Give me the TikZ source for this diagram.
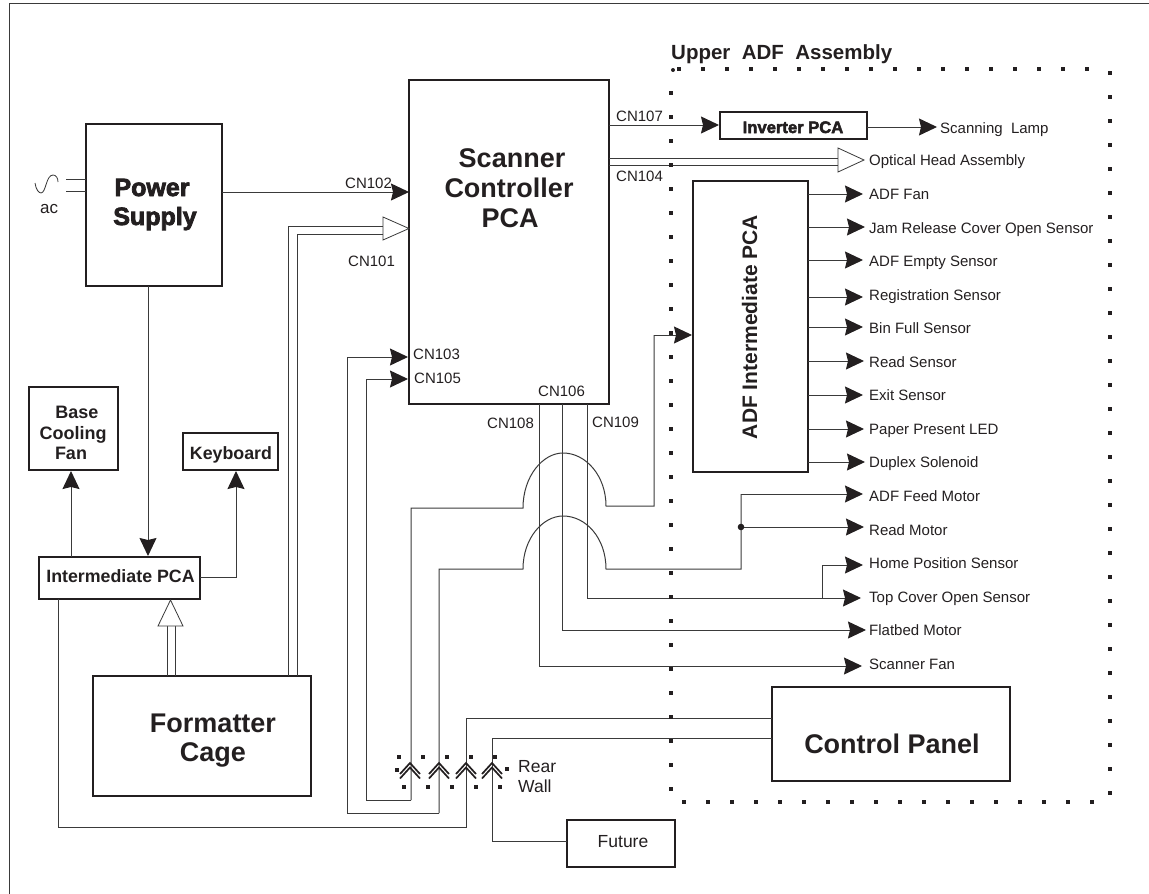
\documentclass[tikz,border=0pt]{standalone}
\usepackage{fontspec}
\setmainfont{Liberation Sans}
\newfontfamily\boldface{Liberation Sans Bold}
\newfontfamily\heavyface[FakeBold=3]{Liberation Sans Bold}
\usetikzlibrary{arrows.meta}
\definecolor{ink}{HTML}{231F20}
\definecolor{wirec}{HTML}{3A3A3A}
\tikzset{
  x=1pt,y=-1pt,
  box/.style={draw=ink,line width=2.3pt,inner sep=0pt,outer sep=0pt,fill=none},
  wire/.style={draw=wirec,line width=1pt},
  head/.style={-{Stealth[length=18pt,width=17pt,inset=2pt,color=ink]}},
  hollow/.style={draw=wirec,line width=0.8pt,fill=white,line join=miter},
  lbl/.style={anchor=base west,inner sep=0pt,text=ink,font=\fontsize{15}{15}\selectfont},
  big/.style={anchor=base,inner sep=0pt,text=ink,font=\boldface\fontsize{#1}{#1}\selectfont},
  heavy/.style={anchor=base,inner sep=0pt,text=ink,font=\heavyface\fontsize{#1}{#1}\selectfont},
  chev/.style={draw=ink,line width=1.7pt,line join=miter},
  spot/.style={fill=ink,draw=none},
}
\begin{document}
\begin{tikzpicture}
\useasboundingbox (0,0) rectangle (1149,894);
% outer frame
\coordinate (frameA) at (9,894); \coordinate (frameB) at (9,3); \coordinate (frameC) at (1149,3);
\draw[wire] (frameA) -- (frameB) -- (frameC);

% boxes
\node[box,minimum width=136pt,minimum height=162pt] (psu) at (154,205) {};
\node[box,minimum width=200pt,minimum height=324pt] (scan) at (509,242) {};
\node[box,minimum width=147pt,minimum height=27pt] (inv) at (793.5,125.5) {};
\node[box,minimum width=115pt,minimum height=291pt] (adf) at (750.5,326.5) {};
\node[box,minimum width=89pt,minimum height=83pt] (fan) at (73.5,428.5) {};
\node[box,minimum width=95pt,minimum height=37pt] (kbd) at (230.5,451.5) {};
\node[box,minimum width=161pt,minimum height=42pt] (ipca) at (119.5,578) {};
\node[box,minimum width=218pt,minimum height=120pt] (fmt) at (202,736) {};
\node[box,minimum width=238pt,minimum height=94pt] (cp) at (891,734) {};
\node[box,minimum width=108pt,minimum height=47pt] (fut) at (621,843.5) {};

% box texts
\node[heavy=25] (tPower) at (152,196) {Power};
\node[heavy=25] (tSupply) at (155,225) {Supply};
\node[big=27] (tScanner) at (512,167) {Scanner};
\node[big=27] (tCtrl) at (509,197) {Controller};
\node[big=27] (tPCA) at (510,227) {PCA};
\node[heavy=16.6] (tInv) at (793,133) {Inverter PCA};
\node[big=21,rotate=90] (tAdf) at (757,327) {ADF Intermediate PCA};
\node[big=18] (tBase) at (77,418) {Base};
\node[big=18] (tCool) at (73,439) {Cooling};
\node[big=18] (tFan) at (71,459) {Fan};
\node[big=17.8] (tKbd) at (231,459) {Keyboard};
\node[big=17.8] (tIpca) at (120.5,582) {Intermediate PCA};
\node[big=27] (tFmt) at (213,732) {Formatter};
\node[big=27] (tCage) at (213,761) {Cage};
\node[big=27] (tCp) at (892,753) {Control Panel};
\node[anchor=base,inner sep=0pt,text=ink,font=\fontsize{17.5}{17.5}\selectfont] (tFut) at (623,847) {Future};
\node[anchor=base west,inner sep=0pt,text=ink,font=\boldface\fontsize{20.5}{20.5}\selectfont] (tUpper) at (671,59) {Upper\ \ ADF\ \ Assembly};

% CN labels
\node[lbl] (cn107) at (616,121) {CN107};
\node[lbl] (cn104) at (616,181) {CN104};
\node[lbl] (cn102) at (345,188) {CN102};
\node[lbl] (cn101) at (348,266) {CN101};
\node[lbl] (cn103) at (413,359) {CN103};
\node[lbl] (cn105) at (414,383) {CN105};
\node[lbl] (cn106) at (538,396) {CN106};
\node[lbl] (cn108) at (487,428) {CN108};
\node[lbl] (cn109) at (592,427) {CN109};
\node[lbl,font=\fontsize{17}{17}\selectfont] (tAc) at (40,213) {ac};
\node[lbl,font=\fontsize{17.5}{17.5}\selectfont] (tRear) at (518,772) {Rear};
\node[lbl,font=\fontsize{17.5}{17.5}\selectfont] (tWall) at (518,792) {Wall};

% ac source
\coordinate (acA) at (66,179); \coordinate (acB) at (66,191);
\draw[wire] (acA) -- (psu.west |- acA);
\draw[wire] (acB) -- (psu.west |- acB);
\draw[wire,line width=0.8pt] (35,183) .. controls (36,190) and (39,193) .. (41,193) .. controls (46,193) and (46,175) .. (53,175) .. controls (56,175) and (58,178) .. (58,182);

% power supply links
\coordinate (t102) at (409,192);
\draw[wire,head] (psu.east |- t102) -- (t102);
\coordinate (tIp) at (148,556);
\draw[wire,head] (psu.south -| tIp) -- (tIp);

% intermediate pca links
\coordinate (tFanA) at (71,471);
\draw[wire,head] (ipca.north -| tFanA) -- (tFanA);
\coordinate (kA) at (236,577); \coordinate (tKb) at (236,471);
\draw[wire,head] (ipca.east |- kA) -- (kA) -- (tKb);

% formatter to intermediate: double
\coordinate (fiL) at (167,626); \coordinate (fiR) at (175,626);
\draw[wire] (fmt.north -| fiL) -- (fiL);
\draw[wire] (fmt.north -| fiR) -- (fiR);
\draw[hollow] (158,626) -- (170.5,600) -- (183,626) -- cycle;

% formatter to scanner: double
\coordinate (fsA) at (288,226); \coordinate (fsB) at (297,234);
\coordinate (hA) at (383,226); \coordinate (hB) at (383,234);
\draw[wire] (fmt.north -| fsA) -- (fsA) -- (hA);
\draw[wire] (fmt.north -| fsB) -- (fsB) -- (hB);
\draw[hollow] (383,217) -- (409,228.5) -- (383,240) -- cycle;

% inverter
\coordinate (t107) at (719,125);
\draw[wire,head] (scan.east |- t107) -- (t107);
\node[lbl] (tLamp) at (940,133) {Scanning\ \ Lamp};
\coordinate (tLampTip) at (937,127);
\draw[wire,head] (inv.east |- tLampTip) -- (tLampTip);

% optical head
\coordinate (oA) at (838,158); \coordinate (oB) at (838,165);
\draw[wire] (scan.east |- oA) -- (oA);
\draw[wire] (scan.east |- oB) -- (oB);
\draw[hollow] (838,148) -- (864,160) -- (838,172) -- cycle;
\node[lbl] (tOpt) at (869,165) {Optical Head Assembly};

% ADF board outputs
\foreach \n/\txt/\ly/\by/\tip in {
  a/ADF Fan/194/199/863,
  b/Jam Release Cover Open Sensor/227/233/865,
  c/ADF Empty Sensor/260/266/863,
  d/Registration Sensor/297/300/863,
  e/Bin Full Sensor/327/333/863,
  f/Read Sensor/361/367/864,
  g/Exit Sensor/395/400/863,
  h/Paper Present LED/429/434/864,
  i/Duplex Solenoid/462/467/865}{
  \node[lbl] (out\n) at (869,\by) {\txt};
  \coordinate (tip\n) at (\tip,\ly);
  \draw[wire,head] (adf.east |- tip\n) -- (tip\n);
}

% right-hand loads
\node[lbl] (tFeed) at (869,501) {ADF Feed Motor};
\node[lbl] (tRead) at (869,535) {Read Motor};
\node[lbl] (tHome) at (869,568) {Home Position Sensor};
\node[lbl] (tTop) at (869,602) {Top Cover Open Sensor};
\node[lbl] (tFlat) at (869,635) {Flatbed Motor};
\node[lbl] (tSfan) at (869,669) {Scanner Fan};
\coordinate (pFeed) at (863,494); \coordinate (pRead) at (864,527);
\coordinate (pHome) at (863,565); \coordinate (pTop) at (861,598);
\coordinate (pFlat) at (866,630); \coordinate (pSfan) at (862,666);

% CN106 group verticals
\coordinate (v1) at (539,666); \coordinate (v2) at (562,630); \coordinate (v3) at (587,598);
\draw[wire,head] (scan.south -| v1) -- (v1) -- (pSfan);
\draw[wire,head] (scan.south -| v2) -- (v2) -- (pFlat);
\draw[wire,head] (scan.south -| v3) -- (v3) -- (pTop);
\coordinate (brA) at (822,598); \coordinate (brB) at (822,565);
\draw[wire,head] (brA) -- (brB) -- (pHome);

% hop 1: rear wall to ADF board
\coordinate (j1) at (411,800); \coordinate (j1b) at (411,508); \coordinate (h1a) at (523,508);
\coordinate (h1top) at (563,453); \coordinate (h1b) at (606,506);
\coordinate (j1c) at (654,506); \coordinate (j1d) at (654,335); \coordinate (tAdfIn) at (692,335);
\draw[wire] (j1) -- (j1b) -- (h1a) .. controls (523,476) and (543,453) .. (h1top) .. controls (586,453) and (606,476) .. (h1b) -- (j1c) -- (j1d);
\draw[wire,head] (j1d) -- (tAdfIn);

% hop 2: rear wall to motors
\coordinate (j2) at (439,813); \coordinate (j2b) at (439,569); \coordinate (h2a) at (523,569);
\coordinate (h2top) at (563,516); \coordinate (h2b) at (606,569);
\coordinate (j2c) at (741,569); \coordinate (j2d) at (741,494); \coordinate (j2e) at (741,527);
\draw[wire] (j2) -- (j2b) -- (h2a) .. controls (523,538) and (543,516) .. (h2top) .. controls (586,516) and (606,538) .. (h2b) -- (j2c) -- (j2d);
\draw[wire,head] (j2d) -- (pFeed);
\draw[wire,head] (j2e) -- (pRead);
\fill[spot] (j2e) circle (3.3pt);

% CN103, CN105 loops
\coordinate (t103) at (408,357); \coordinate (t105) at (408,379);
\coordinate (l3a) at (347,357); \coordinate (l3b) at (347,813);
\coordinate (l5a) at (366,379); \coordinate (l5b) at (366,800);
\draw[wire,head] (j2) -- (l3b) -- (l3a) -- (t103);
\draw[wire,head] (j1) -- (l5b) -- (l5a) -- (t105);

% intermediate pca to control panel
\coordinate (m1) at (58,827); \coordinate (m2) at (466,827); \coordinate (m3) at (466,718);
\draw[wire] (ipca.south -| m1) -- (m1) -- (m2) -- (m3) -- (cp.west |- m3);

% control panel to future
\coordinate (n1) at (492,738); \coordinate (n2) at (492,841);
\draw[wire] (cp.west |- n1) -- (n1) -- (n2) -- (fut.west |- n2);

% rear wall chevrons
\foreach \cx in {410,439,466,492}{
  \draw[chev] (\cx-10,774) -- (\cx,763) -- (\cx+10,774);
  \draw[chev] (\cx-10,778.5) -- (\cx,767.5) -- (\cx+10,778.5);
}
% rear wall dots
\foreach \px/\py in {399/757,423/757,447/757,471/757,495/757,397/770,507/769,404/787,428/787,452/787,476/787,500/787}{
  \fill[spot] (\px-2,\py-2) rectangle (\px+2,\py+2);
}
% upper ADF dotted outline
\fill[spot] (673,70) circle (2pt);
\foreach \k in {0,...,17}{ \fill[spot] (679+24*\k-2,67) rectangle (679+24*\k+2,71); }
\foreach \k in {0,...,29}{ \fill[spot] (669,93+24*\k-2) rectangle (673,93+24*\k+2); }
\foreach \k in {0,...,30}{ \fill[spot] (1108,73+24*\k-2) rectangle (1112,73+24*\k+2); }
\foreach \k in {0,...,17}{ \fill[spot] (684+24*\k-2,800) rectangle (684+24*\k+2,804); }
\end{tikzpicture}
\end{document}
